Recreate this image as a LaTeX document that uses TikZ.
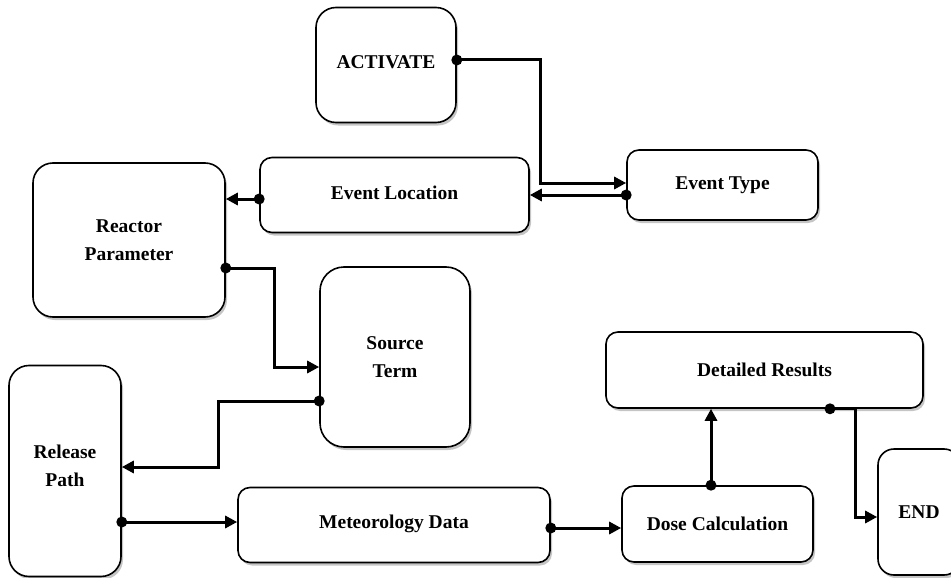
\documentclass[tikz,border=0pt]{standalone}
\usepackage{fontspec}
\setmainfont{Liberation Serif}
\usepackage{tikz}
\usetikzlibrary{calc,positioning,arrows.meta,shadows}

\begin{document}
\begin{tikzpicture}[x=1pt,y=-1pt,
  box/.style={draw,line width=1.6pt,rounded corners=12pt,fill=white,
    drop shadow={shadow xshift=2pt,shadow yshift=-3pt,fill=black!45,opacity=.5},
    inner sep=0pt,align=center,font=\fontsize{19.5}{28}\selectfont\bfseries},
  link/.style={line width=3pt,-{Triangle[length=12pt,width=12pt]}},
  dotn/.style={circle,fill,inner sep=0pt,minimum size=11pt}]
\useasboundingbox (0,0) rectangle (951,578);

\node[box,minimum width=140pt,minimum height=115pt,rounded corners=20pt] (act) at (386,65) {\raisebox{5pt}{ACTIVATE}};
\node[box,minimum width=269pt,minimum height=75pt] (evloc) at (394.5,195) {\raisebox{5pt}{Event Location}};
\node[box,minimum width=191pt,minimum height=70pt] (evtype) at (722.5,185) {Event Type};
\node[box,minimum width=192pt,minimum height=154pt,rounded corners=20pt] (reactor) at (129,240) {Reactor\\Parameter};
\node[box,minimum width=150pt,minimum height=180pt,rounded corners=24pt] (source) at (395,357) {Source\\Term};
\node[box,minimum width=112pt,minimum height=211pt,rounded corners=20pt] (release) at (65,471) {\raisebox{0pt}[0pt][0pt]{\parbox{100pt}{\centering Release\\Path}}};
\node[box,minimum width=312pt,minimum height=75pt] (meteo) at (394,525) {\raisebox{7pt}{Meteorology Data}};
\node[box,minimum width=191pt,minimum height=76pt] (dose) at (717.5,524) {Dose Calculation};
\node[box,minimum width=317pt,minimum height=76pt] (detail) at (764.5,370) {Detailed Results};
\node[box,minimum width=82pt,minimum height=126pt,rounded corners=16pt] (endn) at (919,512) {END};

\draw[link] ([yshift=5pt]act.east) node[dotn]{} -- ++(84,0) |- ([yshift=2pt]evtype.west);
\draw[link] ([yshift=-10pt]evtype.west) node[dotn]{} -- ([yshift=-10pt]evtype.west -| evloc.east);
\draw[link] ([yshift=-4pt]evloc.west) node[dotn]{} -- ([yshift=41pt]reactor.east);
\draw[link] ([yshift=-28pt]reactor.east) node[dotn]{} -- ++(49,0) |- ([yshift=-10pt]source.west);
\draw[link] ([yshift=-44pt]source.west) node[dotn]{} -- ++(-101,0) |- ([yshift=4pt]release.east);
\draw[link] ([yshift=-51pt]release.east) node[dotn]{} -- ([yshift=3pt]meteo.west);
\draw[link] ([yshift=-3pt]meteo.east) node[dotn]{} -- ([yshift=-4pt]dose.west);
\draw[link] ([xshift=-6.5pt]dose.north) node[dotn]{} -- ([xshift=-53.5pt]detail.south);
\draw[link] ([xshift=65.5pt]detail.south) node[dotn]{} -- ++(25,0) |- ([yshift=-5pt]endn.west);

\end{tikzpicture}
\end{document}
